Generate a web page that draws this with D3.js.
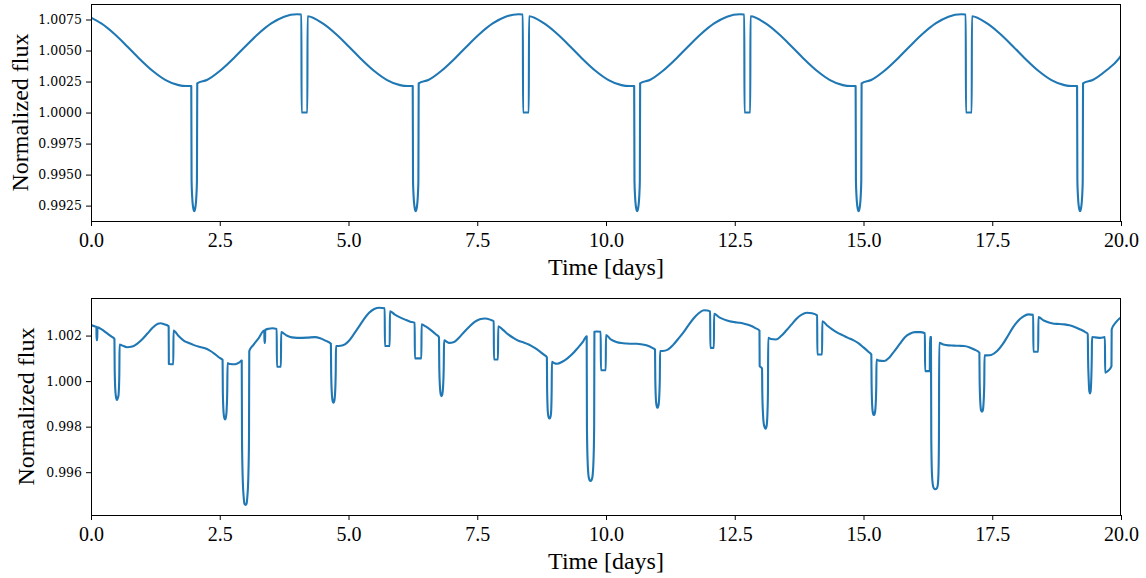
<!DOCTYPE html>
<html>
<head>
<meta charset="utf-8">
<script src="https://cdn.jsdelivr.net/npm/d3@7"></script>
<style>
  body { margin: 0; background: #ffffff; }
  svg { display: block; }
</style>
</head>
<body>
<svg id="chart" width="1146" height="578"></svg>
<script>
// ---------------- data ----------------
const xTicks = [0, 2.5, 5, 7.5, 10, 12.5, 15, 17.5, 20];
const topYTicks = [0.9925, 0.9950, 0.9975, 1.0000, 1.0025, 1.0050, 1.0075];
const bottomYTicks = [0.996, 0.998, 1.000, 1.002];
const xLabel = "Time [days]";
const yLabel = "Normalized flux";

// [time (days), normalized flux]
const topCurve = [
  [0, 1.00765], [0.2, 1.00718], [0.45, 1.00635], [0.7, 1.00535], [0.95, 1.0043], [1.2, 1.00335], [1.45, 1.00262], [1.7, 1.00221], [1.85, 1.00214], [1.947, 1.00214],
  [1.953, 0.9945], [1.965, 0.9932], [1.98, 0.99245], [1.993, 0.99215], [2.005, 0.99205], [2.017, 0.99215], [2.03, 0.99245], [2.045, 0.9932], [2.057, 0.9945], [2.063, 1.00236],
  [2.25, 1.00262], [2.5, 1.00335], [2.75, 1.0043], [3.0, 1.00535], [3.25, 1.00635], [3.5, 1.00718], [3.75, 1.00773], [4.0, 1.00792], [4.085, 1.0079], [4.089, 1.0], [4.201, 1.0], [4.205, 1.00776],
  [4.5, 1.00718], [4.75, 1.00635], [5.0, 1.00535], [5.25, 1.0043], [5.5, 1.00335], [5.75, 1.00262], [6.0, 1.00221], [6.15, 1.00214], [6.247, 1.00214],
  [6.253, 0.9945], [6.265, 0.9932], [6.28, 0.99245], [6.293, 0.99215], [6.305, 0.99205], [6.317, 0.99215], [6.33, 0.99245], [6.345, 0.9932], [6.357, 0.9945], [6.363, 1.00236],
  [6.55, 1.00262], [6.8, 1.00335], [7.05, 1.0043], [7.3, 1.00535], [7.55, 1.00635], [7.8, 1.00718], [8.05, 1.00773], [8.3, 1.00792], [8.385, 1.0079], [8.389, 1.0], [8.501, 1.0], [8.505, 1.00776],
  [8.8, 1.00718], [9.05, 1.00635], [9.3, 1.00535], [9.55, 1.0043], [9.8, 1.00335], [10.05, 1.00262], [10.3, 1.00221], [10.45, 1.00214], [10.547, 1.00214],
  [10.553, 0.9945], [10.565, 0.9932], [10.58, 0.99245], [10.593, 0.99215], [10.605, 0.99205], [10.617, 0.99215], [10.63, 0.99245], [10.645, 0.9932], [10.657, 0.9945], [10.663, 1.00236],
  [10.85, 1.00262], [11.1, 1.00335], [11.35, 1.0043], [11.6, 1.00535], [11.85, 1.00635], [12.1, 1.00718], [12.35, 1.00773], [12.6, 1.00792], [12.685, 1.0079], [12.689, 1.0], [12.801, 1.0], [12.805, 1.00776],
  [13.1, 1.00718], [13.35, 1.00635], [13.6, 1.00535], [13.85, 1.0043], [14.1, 1.00335], [14.35, 1.00262], [14.6, 1.00221], [14.75, 1.00214], [14.847, 1.00214],
  [14.853, 0.9945], [14.865, 0.9932], [14.88, 0.99245], [14.893, 0.99215], [14.905, 0.99205], [14.917, 0.99215], [14.93, 0.99245], [14.945, 0.9932], [14.957, 0.9945], [14.963, 1.00236],
  [15.15, 1.00262], [15.4, 1.00335], [15.65, 1.0043], [15.9, 1.00535], [16.15, 1.00635], [16.4, 1.00718], [16.65, 1.00773], [16.9, 1.00792], [16.985, 1.0079], [16.989, 1.0], [17.101, 1.0], [17.105, 1.00776],
  [17.4, 1.00718], [17.65, 1.00635], [17.9, 1.00535], [18.15, 1.0043], [18.4, 1.00335], [18.65, 1.00262], [18.9, 1.00221], [19.05, 1.00214], [19.147, 1.00214],
  [19.153, 0.9945], [19.165, 0.9932], [19.18, 0.99245], [19.193, 0.99215], [19.205, 0.99205], [19.217, 0.99215], [19.23, 0.99245], [19.245, 0.9932], [19.257, 0.9945], [19.263, 1.00236],
  [19.45, 1.00262], [19.7, 1.00335], [19.95, 1.0043], [20.0, 1.0046]
];

const bottomCurve = [
  [0.0, 1.00246], [0.08, 1.0024], [0.105, 1.00238], [0.108, 1.0018], [0.122, 1.0018], [0.125, 1.00236], [0.2, 1.00228], [0.3, 1.00212], [0.4, 1.00195], [0.455, 1.00186],
  [0.46, 1.0005], [0.475, 0.9995], [0.49, 0.99925], [0.505, 0.99917], [0.52, 0.99925], [0.535, 0.9994], [0.55, 1.0003], [0.555, 1.00161],
  [0.6, 1.00157], [0.7, 1.00149], [0.8, 1.00152], [0.9, 1.00165], [1.0, 1.00185], [1.1, 1.0021], [1.2, 1.00235], [1.3, 1.00252], [1.35, 1.00254], [1.42, 1.0025], [1.508, 1.00241],
  [1.512, 1.00075], [1.598, 1.00074], [1.602, 1.00222],
  [1.7, 1.00198], [1.8, 1.00178], [1.9, 1.00167], [2.0, 1.00158], [2.1, 1.00151], [2.2, 1.00145], [2.3, 1.00135], [2.4, 1.0012], [2.5, 1.00102], [2.555, 1.00093],
  [2.56, 0.9995], [2.575, 0.9986], [2.59, 0.99837], [2.603, 0.99832], [2.615, 0.99837], [2.63, 0.9986], [2.645, 0.9995], [2.652, 1.00079],
  [2.7, 1.00075], [2.8, 1.00074], [2.88, 1.00082], [2.927, 1.0009],
  [2.932, 0.9975], [2.945, 0.9958], [2.965, 0.9949], [2.982, 0.9946], [3.0, 0.99456], [3.018, 0.9946], [3.035, 0.9949], [3.055, 0.9958], [3.068, 0.9975], [3.073, 1.00132],
  [3.15, 1.00158], [3.25, 1.00187], [3.365, 1.00222], [3.368, 1.00168], [3.38, 1.00168], [3.383, 1.00225], [3.45, 1.0023], [3.52, 1.00232], [3.606, 1.00229],
  [3.61, 1.00063], [3.688, 1.00063], [3.692, 1.00215],
  [3.8, 1.002], [3.9, 1.00192], [4.0, 1.0019], [4.2, 1.00191], [4.35, 1.00193], [4.45, 1.00188], [4.55, 1.00178], [4.658, 1.00164],
  [4.663, 1.0004], [4.678, 0.9994], [4.693, 0.99912], [4.708, 0.99905], [4.723, 0.99912], [4.738, 0.9994], [4.752, 1.0004], [4.757, 1.00154],
  [4.85, 1.00155], [4.93, 1.00161], [5.0, 1.00175], [5.1, 1.00205], [5.2, 1.00238], [5.3, 1.00272], [5.4, 1.003], [5.5, 1.00317], [5.6, 1.00322], [5.703, 1.0032],
  [5.707, 1.00154], [5.8, 1.00154], [5.804, 1.00307],
  [5.9, 1.00292], [6.0, 1.0028], [6.1, 1.0027], [6.2, 1.00261], [6.285, 1.00256],
  [6.289, 1.001], [6.415, 1.001], [6.419, 1.00249],
  [6.5, 1.0024], [6.6, 1.00224], [6.7, 1.00205], [6.757, 1.00193],
  [6.762, 1.0007], [6.777, 0.9997], [6.792, 0.9994], [6.806, 0.99934], [6.82, 0.9994], [6.835, 0.9997], [6.85, 1.0007], [6.855, 1.00179],
  [6.95, 1.00168], [7.05, 1.00172], [7.15, 1.00192], [7.25, 1.00217], [7.35, 1.0024], [7.45, 1.0026], [7.55, 1.00272], [7.65, 1.00275], [7.75, 1.0027], [7.82, 1.00263],
  [7.824, 1.00095], [7.903, 1.00095], [7.907, 1.00241],
  [8.0, 1.00225], [8.1, 1.00205], [8.2, 1.0019], [8.3, 1.00177], [8.4, 1.0017], [8.5, 1.00161], [8.6, 1.00148], [8.7, 1.00133], [8.8, 1.00115], [8.852, 1.00105],
  [8.857, 0.9996], [8.872, 0.9986], [8.888, 0.9984], [8.903, 0.99836], [8.918, 0.9984], [8.933, 0.9986], [8.945, 0.9996], [8.95, 1.00085],
  [9.0, 1.00078], [9.05, 1.00076], [9.15, 1.00085], [9.25, 1.001], [9.35, 1.0012], [9.45, 1.00145], [9.55, 1.00172], [9.625, 1.00197],
  [9.63, 0.998], [9.643, 0.9965], [9.663, 0.9958], [9.682, 0.99565], [9.7, 0.99561], [9.718, 0.99565], [9.737, 0.9958], [9.757, 0.9965], [9.77, 0.998], [9.775, 1.00217],
  [9.82, 1.00218], [9.897, 1.00217],
  [9.901, 1.00048], [9.995, 1.00048], [9.999, 1.00202],
  [10.1, 1.00182], [10.2, 1.00172], [10.3, 1.00167], [10.4, 1.00165], [10.5, 1.00164], [10.6, 1.00164], [10.7, 1.00161], [10.8, 1.00156], [10.9, 1.00146], [10.952, 1.00139],
  [10.957, 1.0001], [10.972, 0.9991], [10.987, 0.99888], [11.0, 0.99883], [11.013, 0.99888], [11.028, 0.9991], [11.045, 1.0001], [11.05, 1.00132],
  [11.1, 1.00132], [11.2, 1.00138], [11.3, 1.00158], [11.4, 1.00185], [11.5, 1.00213], [11.6, 1.00245], [11.7, 1.00275], [11.8, 1.00298], [11.9, 1.00311], [11.97, 1.0031], [12.022, 1.00305],
  [12.026, 1.00146], [12.095, 1.00146], [12.099, 1.00296],
  [12.2, 1.0028], [12.3, 1.0027], [12.4, 1.00263], [12.5, 1.00259], [12.6, 1.00256], [12.7, 1.00251], [12.8, 1.00244], [12.9, 1.00233], [12.98, 1.00222],
  [12.984, 1.00066], [13.03, 1.00056], [13.035, 0.9995], [13.05, 0.9985], [13.07, 0.99805], [13.1, 0.99791], [13.12, 0.99805], [13.135, 0.9986], [13.145, 0.9996], [13.15, 1.0019],
  [13.2, 1.00185], [13.3, 1.00183], [13.4, 1.00198], [13.5, 1.00222], [13.6, 1.00248], [13.7, 1.00274], [13.8, 1.00292], [13.9, 1.003], [14.0, 1.00298], [14.1, 1.00289],
  [14.104, 1.00117], [14.196, 1.00117], [14.2, 1.00263],
  [14.3, 1.00243], [14.4, 1.00226], [14.5, 1.00212], [14.6, 1.00201], [14.7, 1.0019], [14.8, 1.0018], [14.9, 1.00167], [15.0, 1.00148], [15.1, 1.00128], [15.152, 1.00117],
  [15.157, 0.9999], [15.172, 0.9988], [15.187, 0.99856], [15.202, 0.99851], [15.217, 0.99856], [15.232, 0.9988], [15.248, 0.9998], [15.253, 1.00095],
  [15.3, 1.0009], [15.4, 1.00088], [15.5, 1.00103], [15.6, 1.00132], [15.7, 1.00162], [15.8, 1.00192], [15.9, 1.00208], [16.0, 1.00215], [16.1, 1.00215], [16.192, 1.0021],
  [16.196, 1.00044], [16.287, 1.00044], [16.291, 1.00193],
  [16.31, 1.00193], [16.316, 0.9975], [16.33, 0.9959], [16.35, 0.9954], [16.37, 0.99528], [16.395, 0.99525], [16.42, 0.99528], [16.44, 0.9954], [16.455, 0.9959], [16.465, 0.9975], [16.47, 1.00168],
  [16.55, 1.00161], [16.65, 1.00157], [16.75, 1.00156], [16.85, 1.00155], [16.95, 1.00154], [17.05, 1.00149], [17.15, 1.00139], [17.25, 1.00125],
  [17.255, 1.0], [17.27, 0.999], [17.285, 0.9987], [17.3, 0.99866], [17.315, 0.9987], [17.33, 0.999], [17.345, 0.9999], [17.35, 1.00113],
  [17.4, 1.00113], [17.48, 1.00115], [17.6, 1.00133], [17.7, 1.00161], [17.8, 1.00197], [17.9, 1.00235], [18.0, 1.00264], [18.1, 1.00283], [18.2, 1.00293], [18.295, 1.00291],
  [18.299, 1.00129], [18.392, 1.00129], [18.396, 1.00281],
  [18.5, 1.00266], [18.6, 1.00257], [18.7, 1.00252], [18.8, 1.00251], [18.9, 1.00249], [19.0, 1.00245], [19.1, 1.00238], [19.2, 1.00228], [19.3, 1.00216], [19.355, 1.00207],
  [19.36, 1.0011], [19.372, 1.0001], [19.385, 0.99955], [19.398, 0.99946], [19.41, 0.99955], [19.423, 1.0001], [19.433, 1.0011], [19.437, 1.00193],
  [19.5, 1.00192], [19.6, 1.0019], [19.688, 1.00193],
  [19.692, 1.00037], [19.75, 1.00045], [19.815, 1.00066], [19.819, 1.00227],
  [19.9, 1.00258], [19.97, 1.00275], [20.0, 1.0028]
];

// ---------------- layout ----------------
const svg = d3.select("#chart");
const LEFT = 91, RIGHT = 1121;
const panels = [
  { data: topCurve, yDomain: [0.99126, 1.00875], yTicks: topYTicks, yFmt: ".4f", top: 4, bottom: 221, yLabelX: 28, xLabelY: 275 },
  { data: bottomCurve, yDomain: [0.99412, 1.00365], yTicks: bottomYTicks, yFmt: ".3f", top: 298, bottom: 515, yLabelX: 34, xLabelY: 569 }
];

const x = d3.scaleLinear().domain([0, 20]).range([LEFT, RIGHT]);

panels.forEach((p, i) => {
  const y = d3.scaleLinear().domain(p.yDomain).range([p.bottom, p.top]);
  const g = svg.append("g");

  g.append("clipPath").attr("id", "clip" + i)
    .append("rect").attr("x", LEFT).attr("y", p.top).attr("width", RIGHT - LEFT).attr("height", p.bottom - p.top);

  const line = d3.line().x(d => x(d[0])).y(d => y(d[1])).curve(d3.curveMonotoneX);
  g.append("path").datum(p.data)
    .attr("clip-path", `url(#clip${i})`)
    .attr("fill", "none").attr("stroke", "#1f77b4").attr("stroke-width", 2.1)
    .attr("stroke-linejoin", "round").attr("stroke-linecap", "square")
    .attr("d", line);

  // x axis
  const xa = g.append("g").attr("transform", `translate(0,${p.bottom})`)
    .call(d3.axisBottom(x).tickValues(xTicks).tickFormat(d3.format(".1f")).tickSize(5).tickPadding(7));
  xa.select(".domain").remove();
  xa.selectAll("line").attr("stroke", "#000");
  xa.selectAll("text").attr("font-family", "'Liberation Serif', 'Times New Roman', serif")
    .attr("font-size", 20).attr("fill", "#000");

  // y axis
  const ya = g.append("g").attr("transform", `translate(${LEFT},0)`)
    .call(d3.axisLeft(y).tickValues(p.yTicks).tickFormat(d3.format(p.yFmt)).tickSize(5).tickPadding(4));
  ya.select(".domain").remove();
  ya.selectAll("line").attr("stroke", "#000");
  ya.selectAll("text").attr("font-family", "'DejaVu Serif', serif")
    .attr("font-size", 12.5).attr("fill", "#000");

  // frame
  g.append("rect").attr("x", LEFT + 0.5).attr("y", p.top + 0.5)
    .attr("width", RIGHT - LEFT - 1).attr("height", p.bottom - p.top)
    .attr("fill", "none").attr("stroke", "#000").attr("stroke-width", 1);

  // labels
  g.append("text").attr("x", (LEFT + RIGHT) / 2).attr("y", p.xLabelY)
    .attr("text-anchor", "middle")
    .attr("font-family", "'Liberation Serif', 'Times New Roman', serif").attr("font-size", 24)
    .text(xLabel);
  g.append("text")
    .attr("transform", `translate(${p.yLabelX},${(p.top + p.bottom) / 2}) rotate(-90)`)
    .attr("text-anchor", "middle")
    .attr("font-family", "'Liberation Serif', 'Times New Roman', serif").attr("font-size", 24)
    .text(yLabel);
});
</script>
</body>
</html>
